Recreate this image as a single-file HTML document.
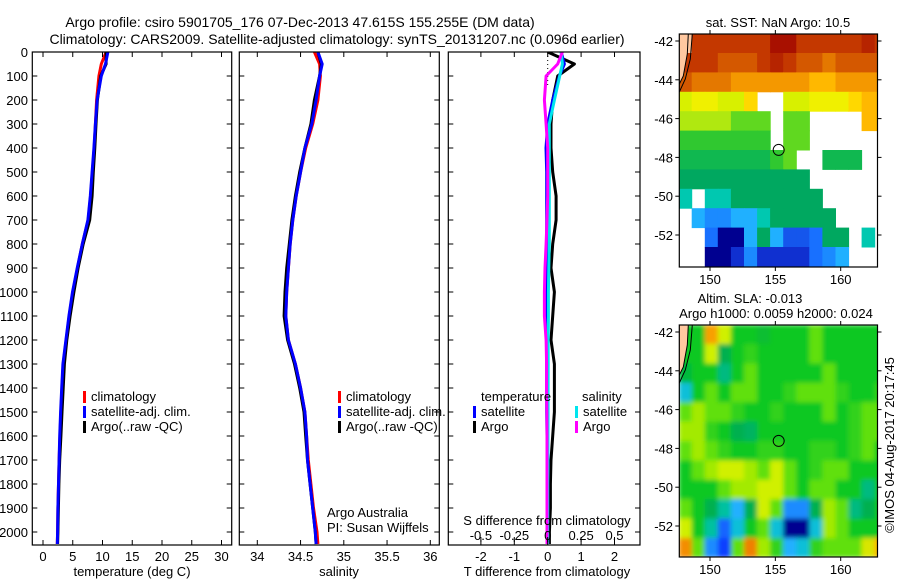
<!DOCTYPE html>
<html><head><meta charset="utf-8"><style>
html,body{margin:0;padding:0;background:#fff}
svg{display:block}
text{font-family:"Liberation Sans",Arial,sans-serif;font-size:13px;fill:#000}
</style></head><body>
<svg id="fig" width="900" height="580" viewBox="0 0 900 580" xmlns="http://www.w3.org/2000/svg">
<defs><filter id="blur" x="-5%" y="-5%" width="110%" height="110%"><feGaussianBlur stdDeviation="2.5"/></filter></defs>
<text x="300" y="27" text-anchor="middle" style="font-size:14px">Argo profile: csiro 5901705_176 07-Dec-2013 47.615S 155.255E (DM data)</text>
<text x="337" y="44" text-anchor="middle" style="font-size:14px">Climatology: CARS2009. Satellite-adjusted climatology: synTS_20131207.nc (0.096d earlier)</text>
<g id="p1"></g>
<g id="p2"></g>
<g id="p3"></g>
<g id="m1"></g>
<g id="m2"></g>
<text transform="translate(894,445) rotate(-90)" text-anchor="middle">©IMOS 04-Aug-2017 20:17:45</text>
</svg>
<script>
// ---------- data ----------
const depths = [0,50,100,200,300,400,500,600,700,800,900,1000,1100,1200,1300,1400,1500,1600,1700,1800,1900,2000,2050];
const tempClim = [10.6,9.8,9.4,9.0,8.8,8.6,8.3,8.0,7.6,6.6,5.8,5.0,4.4,3.9,3.4,3.2,3.0,2.85,2.7,2.6,2.5,2.45,2.4];
const tempSat  = [10.9,10.5,9.8,9.1,8.8,8.55,8.25,7.95,7.55,6.6,5.75,4.95,4.35,3.85,3.35,3.15,2.95,2.8,2.7,2.6,2.5,2.45,2.4];
const tempArgo = [10.6,10.6,9.7,9.15,8.9,8.7,8.45,8.25,7.85,6.75,5.9,5.2,4.55,4.0,3.6,3.4,3.2,3.0,2.8,2.68,2.58,2.5,2.45];
const salClim = [34.66,34.72,34.73,34.7,34.64,34.56,34.5,34.45,34.41,34.38,34.36,34.34,34.33,34.36,34.44,34.5,34.55,34.57,34.59,34.62,34.65,34.69,34.7];
const salSat  = [34.7,34.75,34.72,34.68,34.63,34.55,34.5,34.45,34.41,34.38,34.36,34.34,34.33,34.36,34.44,34.5,34.55,34.57,34.58,34.61,34.64,34.67,34.68];
const salArgo = [34.7,34.74,34.72,34.66,34.62,34.55,34.49,34.44,34.4,34.37,34.34,34.32,34.31,34.35,34.43,34.49,34.54,34.56,34.58,34.61,34.64,34.67,34.68];
const dT_sat  = [0.4,0.5,0.35,0.15,0.0,-0.05,-0.03,-0.03,-0.03,-0.03,-0.03,-0.03,-0.03,-0.03,-0.03,-0.03,-0.03,-0.02,-0.02,-0.02,-0.02,-0.02,-0.02];
const dT_argo = [0.0,0.8,0.3,0.15,0.1,0.1,0.15,0.25,0.25,0.15,0.1,0.2,0.15,0.1,0.2,0.2,0.2,0.15,0.1,0.08,0.08,0.05,0.05];
const dS_sat  = [0.1,0.11,0.09,0.05,0.012,0.012,0.012,0.012,0.012,0.012,0.008,0.005,0.005,0.004,0.004,0.003,0.003,0.002,0.002,0.001,0.001,0.0,0.0];
const dS_argo = [0.11,0.075,-0.012,-0.025,-0.012,0.0,0.0,0.0,-0.005,-0.012,-0.02,-0.025,-0.025,-0.012,-0.008,-0.008,-0.006,-0.005,-0.005,-0.005,-0.005,-0.005,-0.005];
const depthTicks = [0,100,200,300,400,500,600,700,800,900,1000,1100,1200,1300,1400,1500,1600,1700,1800,1900,2000];
const tempTicks = [0,5,10,15,20,25,30];
const salTicks = [34,34.5,35,35.5,36];
const dTTicks = [-2,-1,0,1,2];
const dSTicks = [-0.5,-0.25,0,0.25,0.5];
const lonTicks = [150,155,160];
const latTicks = [-42,-44,-46,-48,-50,-52];
const N = null;
const sstGrid = [
[-99,14,14,14,14,14,14,15,15,14,14,14,14,14,14.5,14],
[14,14,14,13.5,13.5,13.5,14,14.5,14,13.5,13.5,13,13.5,13.5,13.5,13.5],
[13.5,13,13,13,12.5,12.5,12.5,12.5,12.5,12.5,12,12,12.5,12.5,12.5,12.5],
[10.5,11,11,10.5,10.5,11.5,N,N,10.5,10.5,11,11,11,11.5,12,12],
[10,10,10,10,9.5,9.5,9.5,N,9.5,9.5,N,N,N,N,12,12],
[9,9,9,9,9,9,9,N,9.5,9.5,N,N,N,N,N,N],
[8.5,8.5,8.5,8.5,8.5,8.5,8.5,9,9.5,N,N,8.5,8.5,8.5,N,N],
[8,8,8,8,8,8,8,8,8,8,N,N,N,N,N,N],
[7.8,N,7.8,7.8,8,8,8,8,8,8,8,N,N,N,N,N],
[N,7.5,7.2,7.2,7.5,7.5,7.8,8,8,8,8,8,N,N,N,N],
[N,N,7,6,6,7.5,8,7.5,6.8,6.8,7,8,8,N,7.8,N],
[N,N,6,6,6.5,7.2,6.5,6.5,6.5,6.5,7,7.2,7.5,N,N,N]
];
const slaGrid = [
[-99,0,0.25,0.1,0,0,-0.02,0,0,0,0.05,0,0,0,0,0],
[0,0,0.1,-0.05,0,0.02,0,0,0,0,0.05,0,0,0,0,0],
[-0.03,0,0,-0.08,0,0.05,0,0,0,0,0,0.05,0,0,0,0],
[-0.15,0,0.05,0,0.05,0.05,0,0,0.02,0.05,0.05,0.05,0.02,0,0,0.02],
[0.05,0.08,0.05,0.05,0.02,0,0,0.02,0,0,0,0.05,0,0.02,0.05,0.05],
[0.08,0.08,0.02,0,-0.05,-0.06,0,0,0,0,0,0,0,0.02,0.05,0.05],
[0.05,0.08,0.05,0.02,0,0,0.02,0.02,0,0,0.02,0.02,0,0.02,0.05,0],
[0,0.05,0.08,0.1,0.1,0.08,0.05,0.1,0.05,0,0.02,0.05,0.05,0,0,0],
[0,0,0,0.05,0.08,0.08,0.1,0.1,0.05,0,0.05,0.05,0,0,-0.08,0],
[0.05,0,-0.05,-0.1,-0.2,-0.05,0.1,0.05,-0.25,-0.25,-0.05,0.08,0.05,-0.08,-0.05,0],
[0.1,0,-0.1,-0.3,-0.15,0,0.05,-0.15,-0.5,-0.5,-0.15,0.08,0.05,0,0,0],
[0.28,0.05,-0.25,-0.35,0.05,0.3,0.08,0.02,-0.2,-0.15,0.02,0.05,0.05,0.05,0.12,0.22]
];
const floatLon = 155.255, floatLat = -47.615;

// ---------- helpers ----------
const NS='http://www.w3.org/2000/svg';
function mk(parent,tag,attrs,txt){const e=document.createElementNS(NS,tag);for(const k in attrs)e.setAttribute(k,attrs[k]);if(txt!==undefined)e.textContent=txt;parent.appendChild(e);return e;}
const Y0=52, Y1=545;
const yD = d => 52 + d*0.24;
const xT = v => 43 + v*5.95;
const xS = v => 257.3 + (v-34)*86.5;
const xDT = v => 547.7 + v*33.4;
const xDS = v => 547.7 + v*4*33.4;

function frame(g,x0,x1,name){
  const r=mk(g,'rect',{x:x0,y:Y0,width:x1-x0,height:Y1-Y0,fill:'none',stroke:'#000','stroke-width':1.2});
  
  
  depthTicks.forEach(d=>{
    mk(g,'line',{x1:x0,x2:x0+5,y1:yD(d),y2:yD(d),stroke:'#000'});
    mk(g,'line',{x1:x1-5,x2:x1,y1:yD(d),y2:yD(d),stroke:'#000'});
  });
}
function xticks(g,ticks,fx,name){
  ticks.forEach(t=>{
    const x=fx(t);
    mk(g,'line',{x1:x,x2:x,y1:Y1,y2:Y1-5,stroke:'#000'});
    mk(g,'line',{x1:x,x2:x,y1:Y0,y2:Y0+5,stroke:'#000'});
    const tx=mk(g,'text',{x:x,y:561,'text-anchor':'middle'},String(t));
    
    
  });
}
function line(g,xs,fx,color,name){
  const pts=xs.map((v,i)=>fx(v).toFixed(1)+','+yD(depths[i]).toFixed(1)).join(' ');
  const p=mk(g,'polyline',{points:pts,fill:'none',stroke:color,'stroke-width':3,'stroke-linejoin':'round'});
  
  
}
function legend(g,x,y,color,label,name){
  mk(g,'rect',{x:x,y:y-10,width:3,height:12,fill:color});
  const t=mk(g,'text',{x:x+8,y:y},label);
  
  
}
function clip(id,x0,x1){const d=mk(document.getElementById('fig'),'clipPath',{id:id});mk(d,'rect',{x:x0,y:Y0,width:x1-x0,height:Y1-Y0});}

// ---------- panel 1 ----------
const p1=document.getElementById('p1');
clip('c1',32.3,231.7);
const g1=mk(p1,'g',{'clip-path':'url(#c1)'});
line(g1,tempClim,xT,'#ff0000','temp-climatology-line');
line(g1,tempArgo,xT,'#000000','temp-argo-line');
line(g1,tempSat,xT,'#0000ff','temp-satellite-line');
frame(p1,32.3,231.7,'temperature');
xticks(p1,tempTicks,xT,'temperature-x');
depthTicks.forEach(d=>{
  const t=mk(p1,'text',{x:28,y:yD(d)+5,'text-anchor':'end'},String(d));
  
  
});
const t1=mk(p1,'text',{x:132,y:576,'text-anchor':'middle'},'temperature (deg C)');

legend(p1,83,401,'#ff0000','climatology','legend-climatology');
legend(p1,83,416,'#0000ff','satellite-adj. clim.','legend-satellite');
legend(p1,83,431,'#000000','Argo(..raw -QC)','legend-argo');

// ---------- panel 2 ----------
const p2=document.getElementById('p2');
clip('c2',239.3,439.3);
const g2=mk(p2,'g',{'clip-path':'url(#c2)'});
line(g2,salClim,xS,'#ff0000','sal-climatology-line');
line(g2,salArgo,xS,'#000000','sal-argo-line');
line(g2,salSat,xS,'#0000ff','sal-satellite-line');
frame(p2,239.3,439.3,'salinity');
xticks(p2,salTicks,xS,'salinity-x');
const t2=mk(p2,'text',{x:339,y:576,'text-anchor':'middle'},'salinity');

legend(p2,338,401,'#ff0000','climatology','legend-climatology');
legend(p2,338,416,'#0000ff','satellite-adj. clim.','legend-satellite');
legend(p2,338,431,'#000000','Argo(..raw -QC)','legend-argo');
const a1=mk(p2,'text',{x:327,y:517},'Argo Australia');
const a2=mk(p2,'text',{x:327,y:532},'PI: Susan Wijffels');

// ---------- panel 3 ----------
const p3=document.getElementById('p3');
clip('c3',448.3,640);
const g3=mk(p3,'g',{'clip-path':'url(#c3)'});
mk(g3,'line',{x1:xDT(0),x2:xDT(0),y1:yD(0),y2:yD(150),stroke:'#000','stroke-dasharray':'1,3'});
line(g3,dT_argo,xDT,'#000000','dT-argo-line');
line(g3,dT_sat,xDT,'#0000ff','dT-satellite-line');
line(g3,dS_sat,xDS,'#00e5ee','dS-satellite-line');
line(g3,dS_argo,xDS,'#ff00ff','dS-argo-line');
frame(p3,448.3,640,'difference');
xticks(p3,dTTicks,xDT,'dT-x');
dSTicks.forEach(t=>{
  const x=xDS(t);
  mk(p3,'line',{x1:x,x2:x,y1:537,y2:542,stroke:'#000'});
  const tx=mk(p3,'text',{x:x,y:540,'text-anchor':'middle'},String(t));
  
});
const t3=mk(p3,'text',{x:547,y:525,'text-anchor':'middle'},'S difference from climatology');

const t4=mk(p3,'text',{x:547,y:576,'text-anchor':'middle'},'T difference from climatology');

const l1=mk(p3,'text',{x:481,y:401},'temperature');
legend(p3,473,416,'#0000ff','satellite','legend-t-satellite');
legend(p3,473,431,'#000000','Argo','legend-t-argo');
const l2=mk(p3,'text',{x:582,y:401},'salinity');
legend(p3,575,416,'#00e5ee','satellite','legend-s-satellite');
legend(p3,575,431,'#ff00ff','Argo','legend-s-argo');

// ---------- maps ----------
const sstStops=[[6,'#000090'],[6.5,'#1030d0'],[7,'#1870ff'],[7.5,'#20b0ff'],[7.8,'#00c8b0'],[8,'#00a860'],[8.5,'#10b850'],[9,'#30c830'],[9.5,'#60d820'],[10,'#b0e810'],[10.5,'#d8f000'],[11,'#f0f000'],[11.5,'#ffd800'],[12,'#ffb800'],[12.5,'#f49800'],[13,'#e47800'],[13.5,'#d45800'],[14,'#c43800'],[15,'#a81000']];
const slaStops=[[-0.5,'#000090'],[-0.35,'#1040ff'],[-0.2,'#20b0ff'],[-0.12,'#00c8c0'],[-0.05,'#00b050'],[0,'#10c820'],[0.05,'#60e010'],[0.1,'#d0f000'],[0.2,'#ffc000'],[0.3,'#f08000']];
function hex(c){return [parseInt(c.slice(1,3),16),parseInt(c.slice(3,5),16),parseInt(c.slice(5,7),16)];}
function cmap(stops,v){
  if(v<=stops[0][0])return stops[0][1];
  for(let i=1;i<stops.length;i++){if(v<=stops[i][0]){const a=stops[i-1],b=stops[i];const u=(v-a[0])/(b[0]-a[0]);const A=hex(a[1]),B=hex(b[1]);return 'rgb('+A.map((x,k)=>Math.round(x+(B[k]-x)*u)).join(',')+')';}}
  return stops[stops.length-1][1];
}
function drawMap(gid,top,bot,grid,stops,name,blur){
  const g=document.getElementById(gid);
  const X0=679.3,X1=877.5;
  const xL=lon=>710+(lon-150)*13.07;
  const yL=lat=>top+7+(-42-lat)*19.4;
  const cid='clip-'+gid;
  const cp=mk(document.getElementById('fig'),'clipPath',{id:cid});mk(cp,'rect',{x:X0,y:top,width:X1-X0,height:bot-top});
  const outer=mk(g,'g',{'clip-path':'url(#'+cid+')'});
  const gg=mk(outer,'g',blur?{filter:'url(#blur)'}:{});
  grid.forEach((row,j)=>row.forEach((v,i)=>{
    if(v===null)return;
    const lon0=147.6+i, lat0=-41.62-j;
    const x=xL(lon0), y=yL(lat0);
    const c=(v===-99)?(blur?cmap(stops,0):'#ffc8a0'):cmap(stops,v);
    const r=mk(gg,'rect',{x:x.toFixed(1),y:y.toFixed(1),width:13.6,height:19.9,fill:c});
    
    
  }));
  mk(outer,'path',{d:`M${X0},${top} L${X0+9},${top} L${X0+8},${top+20} L${X0+4},${top+42} L${X0},${top+50} Z`,fill:'#ffc8a0'});
  const cl=mk(outer,'path',{d:`M${X0+9},${top} L${X0+8},${top+20} L${X0+4},${top+42} L${X0},${top+50} M${X0+13},${top} L${X0+11},${top+25} L${X0+6},${top+45} L${X0},${top+58}`,fill:'none',stroke:'#000','stroke-width':1});
  
  const fr=mk(g,'rect',{x:X0,y:top,width:X1-X0,height:bot-top,fill:'none',stroke:'#000','stroke-width':1.2});
  
  lonTicks.forEach(l=>{const x=xL(l);
    mk(g,'line',{x1:x,x2:x,y1:top,y2:top-4,stroke:'#000'});
    mk(g,'line',{x1:x,x2:x,y1:bot,y2:bot+4,stroke:'#000'});
    const t=mk(g,'text',{x:x,y:bot+17,'text-anchor':'middle'},String(l));
    });
  latTicks.forEach(l=>{const y=yL(l);
    mk(g,'line',{x1:X0,x2:X0-4,y1:y,y2:y,stroke:'#000'});
    mk(g,'line',{x1:X1,x2:X1+4,y1:y,y2:y,stroke:'#000'});
    const t=mk(g,'text',{x:673,y:y+5,'text-anchor':'end'},String(l));
    });
  const c=mk(g,'circle',{cx:xL(floatLon),cy:yL(floatLat),r:5.5,fill:'none',stroke:'#000','stroke-width':1});
  
}
drawMap('m1',34,267,sstGrid,sstStops,'sst-map',false);
drawMap('m2',325,557,slaGrid,slaStops,'sla-map',true);
const m1=document.getElementById('m1');
const mt=mk(m1,'text',{x:778,y:27,'text-anchor':'middle'},'sat. SST: NaN Argo: 10.5');

const m2=document.getElementById('m2');
const mt2=mk(m2,'text',{x:750,y:303,'text-anchor':'middle'},'Altim. SLA: -0.013');

const mt3=mk(m2,'text',{x:776,y:318,'text-anchor':'middle'},'Argo h1000: 0.0059 h2000: 0.024');

</script>
</body></html>
